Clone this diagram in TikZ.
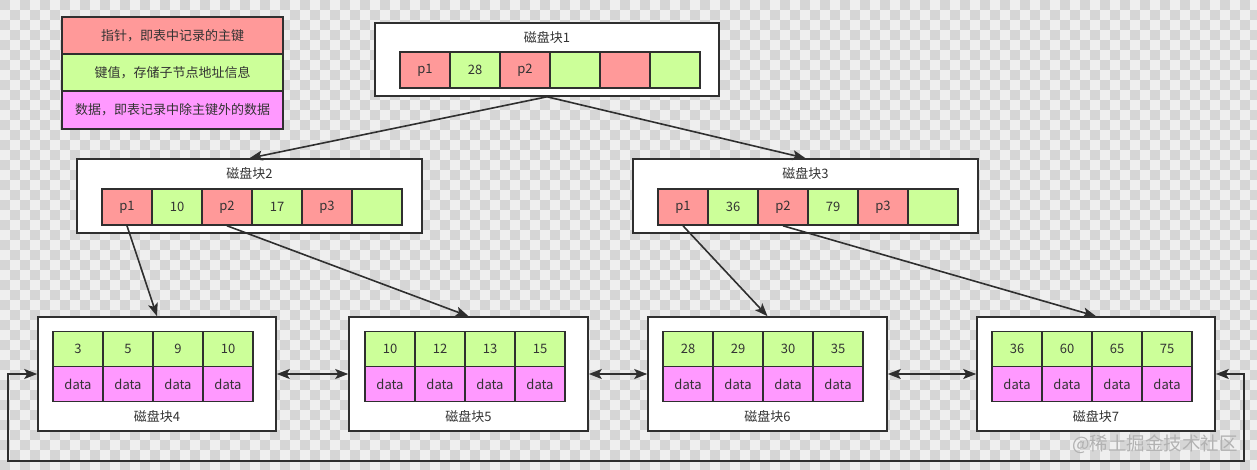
\documentclass[tikz,border=0pt]{standalone}
\usepackage{fontspec}
\setmainfont{Noto Sans CJK SC}
\usetikzlibrary{arrows.meta}
\definecolor{cred}{HTML}{FF9999}
\definecolor{cgreen}{HTML}{CCFF99}
\definecolor{cpink}{HTML}{FF99FF}
\definecolor{cline}{HTML}{2F2F2F}
\definecolor{ctext}{HTML}{333333}
\definecolor{chkA}{HTML}{EFEFEF}
\definecolor{chkB}{HTML}{D6D6D6}
\begin{document}
\begin{tikzpicture}[x=1pt,y=-1pt,
  txt/.style={font=\fontsize{13}{14}\selectfont, text=ctext},
  cellbox/.style={draw=cline, line width=1.6pt, minimum width=50pt, minimum height=36pt, inner sep=0pt, txt},
  rc/.style={cellbox, fill=cred},
  gc/.style={cellbox, fill=cgreen},
  kc/.style={cellbox, fill=cgreen, minimum height=35pt},
  dc/.style={cellbox, fill=cpink, minimum height=35pt},
  blockbox/.style={draw=cline, line width=1.6pt, fill=white, inner sep=0pt},
  legbox/.style={draw=cline, line width=1.6pt, minimum width=221pt, inner sep=0pt, txt},
  link/.style={draw=cline, line width=1.6pt, -{Stealth[length=13pt,width=10pt,inset=3pt]}},
  dlink/.style={draw=cline, line width=1.6pt, {Stealth[length=13pt,width=10pt,inset=3pt]}-{Stealth[length=13pt,width=10pt,inset=3pt]}}
]
% background checkerboard
\useasboundingbox (0,0) rectangle (1257,470);
\fill[chkA] (0,0) rectangle (1257,470);
\foreach \i in {0,20,...,1260} {
  \foreach \j in {0,20,...,460} {
    \fill[chkB] (\i,\j) rectangle ++(10,10);
    \fill[chkB] (\i+10,\j+10) rectangle ++(10,10);
  }
}

% legend
\node[legbox, fill=cred, minimum height=37pt] (lg1) at (172.5,35.5) {指针，即表中记录的主键};
\node[legbox, fill=cgreen, minimum height=37pt] (lg2) at (172.5,72.5) {键值，存储子节点地址信息};
\node[legbox, fill=cpink, minimum height=38pt] (lg3) at (172.5,110) {数据，即表记录中除主键外的数据};

% block 1
\node[blockbox, minimum width=344pt, minimum height=73pt] (b1) at (547,59.5) {};
\node[txt] (t1) at (547,38) {磁盘块1};
\node[rc] (b1c1) at (425,70) {p1};
\node[gc] (b1c2) at (475,70) {28};
\node[rc] (b1c3) at (525,70) {p2};
\node[gc] (b1c4) at (575,70) {};
\node[rc] (b1c5) at (625,70) {};
\node[gc] (b1c6) at (675,70) {};

% block 2
\node[blockbox, minimum width=345pt, minimum height=74pt] (b2) at (249.5,196) {};
\node[txt] (t2) at (249.5,174) {磁盘块2};
\node[rc] (b2c1) at (127,207) {p1};
\node[gc] (b2c2) at (177,207) {10};
\node[rc] (b2c3) at (227,207) {p2};
\node[gc] (b2c4) at (277,207) {17};
\node[rc] (b2c5) at (327,207) {p3};
\node[gc] (b2c6) at (377,207) {};

% block 3
\node[blockbox, minimum width=345pt, minimum height=74pt] (b3) at (805.5,196) {};
\node[txt] (t3) at (805.5,174) {磁盘块3};
\node[rc] (b3c1) at (683,207) {p1};
\node[gc] (b3c2) at (733,207) {36};
\node[rc] (b3c3) at (783,207) {p2};
\node[gc] (b3c4) at (833,207) {79};
\node[rc] (b3c5) at (883,207) {p3};
\node[gc] (b3c6) at (933,207) {};

% leaf blocks
\node[blockbox, minimum width=238pt, minimum height=114pt] (b4) at (157,374) {};
\node[txt] (t4) at (157,417) {磁盘块4};
\node[kc] (b4k1) at (78,349) {3};
\node[kc] (b4k2) at (128,349) {5};
\node[kc] (b4k3) at (178,349) {9};
\node[kc] (b4k4) at (228,349) {10};
\node[dc] (b4d1) at (78,384) {data};
\node[dc] (b4d2) at (128,384) {data};
\node[dc] (b4d3) at (178,384) {data};
\node[dc] (b4d4) at (228,384) {data};

\node[blockbox, minimum width=239pt, minimum height=114pt] (b5) at (468.5,374) {};
\node[txt] (t5) at (468.5,417) {磁盘块5};
\node[kc] (b5k1) at (390,349) {10};
\node[kc] (b5k2) at (440,349) {12};
\node[kc] (b5k3) at (490,349) {13};
\node[kc] (b5k4) at (540,349) {15};
\node[dc] (b5d1) at (390,384) {data};
\node[dc] (b5d2) at (440,384) {data};
\node[dc] (b5d3) at (490,384) {data};
\node[dc] (b5d4) at (540,384) {data};

\node[blockbox, minimum width=239pt, minimum height=114pt] (b6) at (767.5,374) {};
\node[txt] (t6) at (767.5,417) {磁盘块6};
\node[kc] (b6k1) at (688,349) {28};
\node[kc] (b6k2) at (738,349) {29};
\node[kc] (b6k3) at (788,349) {30};
\node[kc] (b6k4) at (838,349) {35};
\node[dc] (b6d1) at (688,384) {data};
\node[dc] (b6d2) at (738,384) {data};
\node[dc] (b6d3) at (788,384) {data};
\node[dc] (b6d4) at (838,384) {data};

\node[blockbox, minimum width=238pt, minimum height=114pt] (b7) at (1096,374) {};
\node[txt] (t7) at (1096,417) {磁盘块7};
\node[kc] (b7k1) at (1017,349) {36};
\node[kc] (b7k2) at (1067,349) {60};
\node[kc] (b7k3) at (1117,349) {65};
\node[kc] (b7k4) at (1167,349) {75};
\node[dc] (b7d1) at (1017,384) {data};
\node[dc] (b7d2) at (1067,384) {data};
\node[dc] (b7d3) at (1117,384) {data};
\node[dc] (b7d4) at (1167,384) {data};

% tree links
\draw[link] (b1.south) -- (b2.north);
\draw[link] (b1.south) -- (b3.north);
\draw[link] (b2c1.south) -- (b4.north);
\draw[link] (b2c3.south) -- (b5.north);
\draw[link] (b3c1.south) -- (b6.north);
\draw[link] (b3c3.south) -- (b7.north);

% leaf links
\draw[dlink] (b4.east) -- (b5.west);
\draw[dlink] (b5.east) -- (b6.west);
\draw[dlink] (b6.east) -- (b7.west);

\coordinate (r1) at (1244,374);
\coordinate (r2) at (1244,461);
\coordinate (l2) at (8,461);
\coordinate (l1) at (8,374);
\draw[dlink] (b7.east) -- (r1) -- (r2) -- (l2) -- (l1) -- (b4.west);

% watermark
\node[font=\fontsize{18.5}{19}\selectfont, text=black!30] (wm) at (1155,444) {@稀土掘金技术社区};
\end{tikzpicture}
\end{document}
